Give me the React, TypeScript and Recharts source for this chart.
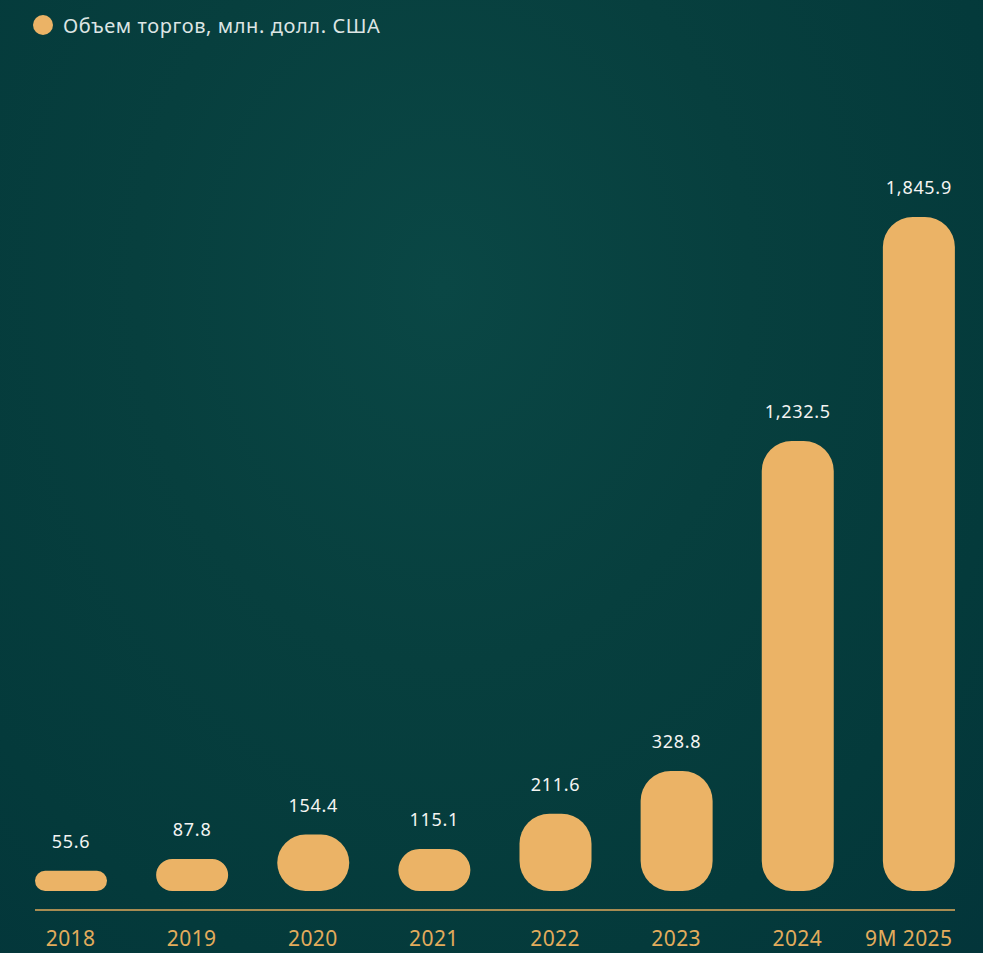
import React from 'react';
import { BarChart, Bar, XAxis, YAxis, LabelList, Legend } from 'recharts';

const years = ['2018', '2019', '2020', '2021', '2022', '2023', '2024', '9M 2025'];
const volumes = [55.6, 87.8, 154.4, 115.1, 211.6, 328.8, 1232.5, 1845.9];
const seriesName = 'Объем торгов, млн. долл. США';

const data = years.map((year, i) => ({ year, volume: volumes[i] }));

const FONT = '"Noto Sans", "Open Sans", sans-serif';
const GOLD = '#EBB366';
const BAR_SIZE = 72;

const formatValue = (v: number) =>
  v.toLocaleString('en-US', { minimumFractionDigits: 1, maximumFractionDigits: 1 });

const LegendContent = () => (
  <div style={{ display: 'flex', alignItems: 'center', fontFamily: FONT, height: 26 }}>
    <span
      style={{
        width: 20,
        height: 20,
        borderRadius: '50%',
        background: GOLD,
        display: 'inline-block',
        marginRight: 10,
      }}
    />
    <span style={{ color: '#DDE5E4', fontSize: 20, letterSpacing: 0.6 }}>{seriesName}</span>
  </div>
);

// last label is pulled in so it ends at the bar's right edge, like the original
const YearTick = (props: any) => {
  const { x, y, payload, index } = props;
  const isLast = index === years.length - 1;
  return (
    <text
      x={isLast ? x + BAR_SIZE / 2 - 2 : x}
      y={y + 47}
      textAnchor={isLast ? 'end' : 'middle'}
      fill="#E2AC5C"
      fontFamily={FONT}
      fontSize={21}
      letterSpacing={0.4}
    >
      {payload.value}
    </text>
  );
};

const App: React.FC = () => {
  return (
    <div
      style={{
        position: 'absolute',
        top: 0,
        left: 0,
        width: 983,
        height: 953,
        overflow: 'hidden',
        background:
          'radial-gradient(ellipse at 45% 30%, #0a4745 0%, #073f3e 40%, #043a3b 75%, #03353a 100%)',
      }}
    >
      <div
        style={{
          position: 'absolute',
          left: 35,
          top: 909,
          width: 920,
          height: 2,
          background: '#A88C52',
        }}
      />
      <BarChart
        width={983}
        height={953}
        data={data}
        margin={{ top: 191, right: 4, left: 10, bottom: 0 }}
        barCategoryGap="20%"
      >
        <XAxis
          dataKey="year"
          axisLine={false}
          tickLine={false}
          height={62}
          interval={0}
          tick={<YearTick />}
        />
        <YAxis hide domain={[0, 1845.9]} />
        <Legend
          verticalAlign="top"
          align="left"
          wrapperStyle={{ top: 12, left: 33 }}
          content={<LegendContent />}
        />
        <Bar
          dataKey="volume"
          name={seriesName}
          fill={GOLD}
          barSize={BAR_SIZE}
          radius={30}
          isAnimationActive={false}
        >
          <LabelList
            dataKey="volume"
            position="top"
            offset={23}
            formatter={(v: any) => formatValue(Number(v))}
            fill="#F4F4F2"
            fontFamily={FONT}
            fontSize={18}
            letterSpacing={0.7}
          />
        </Bar>
      </BarChart>
    </div>
  );
};

export default App;
